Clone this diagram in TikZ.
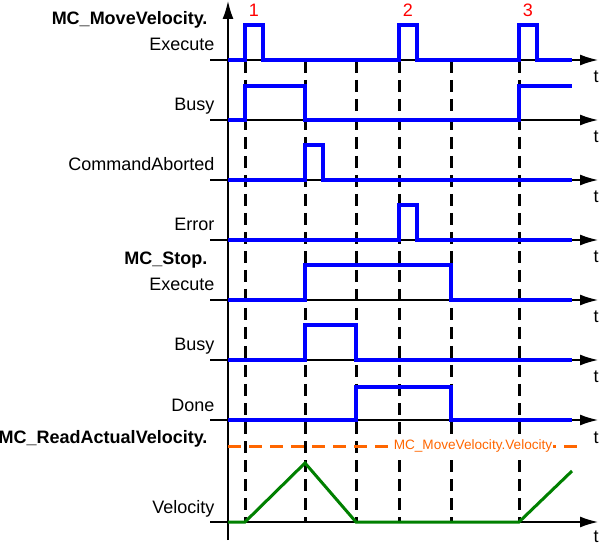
\documentclass[tikz,border=0pt]{standalone}
\usepackage{fontspec}
\setmainfont{Liberation Sans}
\usetikzlibrary{arrows.meta}
\definecolor{sigblau}{RGB}{0,0,255}
\definecolor{vgruen}{RGB}{0,128,0}
\definecolor{sorange}{RGB}{255,102,0}
\tikzset{
  achse/.style={-{Latex[length=18pt,width=11pt]}, line width=1.4pt},
  sig/.style={sigblau, line width=3.2pt, line join=miter},
  marke/.style={dash pattern=on 12pt off 7pt, line width=3pt},
  beschr/.style={anchor=base east, font=\fontsize{18}{21}\selectfont},
  titel/.style={anchor=base east, font=\fontsize{18}{21}\selectfont\bfseries},
}
\begin{document}
\begin{tikzpicture}[x=1pt, y=-1pt]
\useasboundingbox (0,0) rectangle (600,545);
% Zeitmarken
\foreach \t in {245,305,356,399,451,519}
  \draw[marke] (\t,61) -- (\t,522);
% Achsen
\draw[achse] (228,540) -- (228,1);
\foreach \y in {60,120,180,240,300,360,420,522} {
  \draw[achse] (210,\y) -- (598,\y);
  \node[anchor=base, font=\fontsize{18}{21}\selectfont] (t\y) at (596,{min(\y+23,542)}) {t};
}
% Beschriftung
\node[titel] (MV) at (211,25) {MC\_MoveVelocity.};
\node[beschr] (MVEx) at (218,51) {Execute};
\node[beschr] (MVBusy) at (218,111) {Busy};
\node[beschr] (MVAb) at (218,171) {CommandAborted};
\node[beschr] (MVErr) at (218,231) {Error};
\node[titel] (St) at (211,265) {MC\_Stop.};
\node[beschr] (StEx) at (218,291) {Execute};
\node[beschr] (StBusy) at (218,351) {Busy};
\node[beschr] (StDone) at (218,411) {Done};
\node[titel] (RV) at (211,443) {MC\_ReadActualVelocity.};
\node[beschr] (RVv) at (218,513) {Velocity};
\node[anchor=base, red, font=\fontsize{18}{21}\selectfont] (N1) at (254,17) {1};
\node[anchor=base, red, font=\fontsize{18}{21}\selectfont] (N2) at (408,17) {2};
\node[anchor=base, red, font=\fontsize{18}{21}\selectfont] (N3) at (528,17) {3};
% Signale
\draw[sig] (228,60) -- (245,60) -- (245,25) -- (263,25) -- (263,60) -- (399,60) -- (399,25) -- (417,25) -- (417,60) -- (519,60) -- (519,25) -- (537,25) -- (537,60) -- (572,60);
\draw[sig] (228,120) -- (245,120) -- (245,86) -- (305,86) -- (305,120) -- (519,120) -- (519,86) -- (572,86);
\draw[sig] (228,180) -- (305,180) -- (305,145) -- (323,145) -- (323,180) -- (572,180);
\draw[sig] (228,240) -- (399,240) -- (399,205) -- (417,205) -- (417,240) -- (572,240);
\draw[sig] (228,300) -- (305,300) -- (305,265) -- (451,265) -- (451,300) -- (572,300);
\draw[sig] (228,360) -- (305,360) -- (305,325) -- (356,325) -- (356,360) -- (572,360);
\draw[sig] (228,420) -- (356,420) -- (356,387) -- (451,387) -- (451,420) -- (572,420);
% Geschwindigkeit
\draw[sorange, line width=3pt, dash pattern=on 13pt off 8pt] (228,446) -- (581,446);
\node[fill=white, inner sep=1pt, text=sorange, font=\fontsize{13.6}{16}\selectfont] (Vsoll) at (473,446) {MC\_MoveVelocity.Velocity};
\draw[vgruen, line width=3pt] (228,522) -- (245,522) -- (305,463) -- (356,522) -- (519,522) -- (572,471);
\end{tikzpicture}
\end{document}
